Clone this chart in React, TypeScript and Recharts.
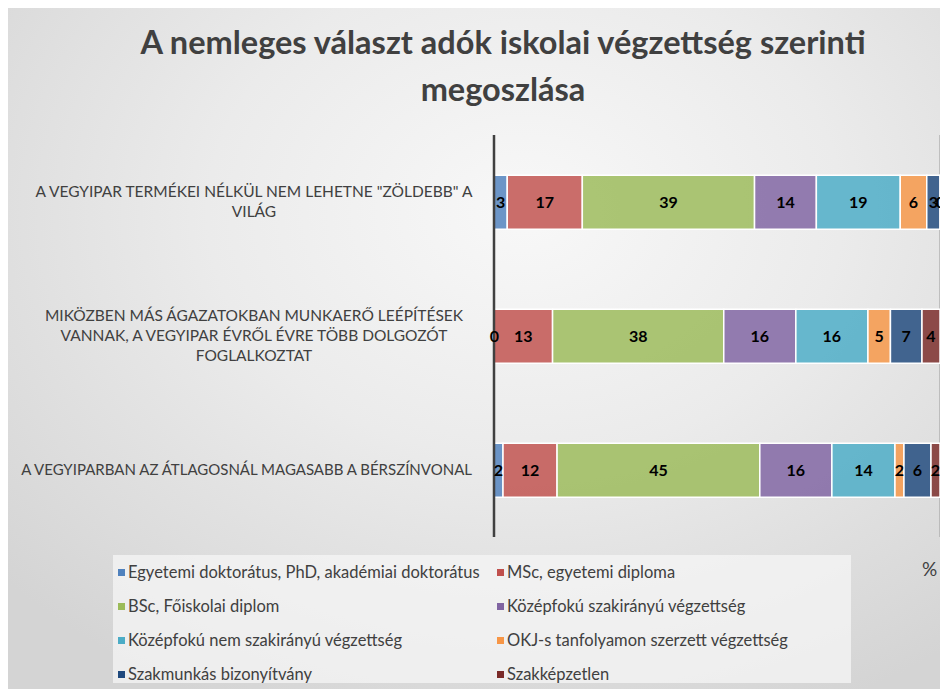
import React from 'react';
import { BarChart, Bar, XAxis, YAxis, CartesianGrid, Legend, LabelList } from 'recharts';

const categories = [
  'A VEGYIPAR TERMÉKEI NÉLKÜL NEM LEHETNE "ZÖLDEBB" A VILÁG',
  'MIKÖZBEN MÁS ÁGAZATOKBAN MUNKAERŐ LEÉPÍTÉSEK VANNAK, A VEGYIPAR ÉVRŐL ÉVRE TÖBB DOLGOZÓT FOGLALKOZTAT',
  'A VEGYIPARBAN AZ ÁTLAGOSNÁL MAGASABB A BÉRSZÍNVONAL',
];
const tickLines = [
  ['A VEGYIPAR TERMÉKEI NÉLKÜL NEM LEHETNE "ZÖLDEBB" A', 'VILÁG'],
  ['MIKÖZBEN MÁS ÁGAZATOKBAN MUNKAERŐ LEÉPÍTÉSEK', 'VANNAK, A VEGYIPAR ÉVRŐL ÉVRE TÖBB DOLGOZÓT', 'FOGLALKOZTAT'],
  ['A VEGYIPARBAN AZ ÁTLAGOSNÁL MAGASABB A BÉRSZÍNVONAL'],
];

const seriesNames = [
  'Egyetemi doktorátus, PhD, akadémiai doktorátus',
  'MSc, egyetemi diploma',
  'BSc, Főiskolai diplom',
  'Középfokú szakirányú végzettség',
  'Középfokú nem szakirányú végzettség',
  'OKJ-s tanfolyamon szerzett végzettség',
  'Szakmunkás bizonyítvány',
  'Szakképzetlen',
];
const seriesColors = ['#4F81BD', '#C0504D', '#9BBB59', '#8064A2', '#4BACC6', '#F79646', '#1F497D', '#7A2A28'];

const doktor = [3, 0, 2];
const msc = [17, 13, 12];
const bsc = [39, 38, 45];
const kozepSzak = [14, 16, 16];
const kozepNem = [19, 16, 14];
const okj = [6, 5, 2];
const szakmunkas = [3, 7, 6];
const szakkepzetlen = [0, 4, 2];
const seriesValues = [doktor, msc, bsc, kozepSzak, kozepNem, okj, szakmunkas, szakkepzetlen];

const xTicks = [0, 0.2, 0.4, 0.6, 0.8, 1];

const data = categories.map((c, i) => {
  const row: any = { name: c, idx: i };
  seriesNames.forEach((s, k) => {
    row['s' + k] = seriesValues[k][i];
  });
  return row;
});

const FONT = 'Lato, "Open Sans", sans-serif';

const YTick = (props: any) => {
  const { x, y, payload } = props;
  const i = categories.indexOf(payload.value);
  const lines = tickLines[i] || [payload.value];
  const lh = 20;
  const startY = y - ((lines.length - 1) * lh) / 2;
  const single = lines.length === 1;
  return (
    <g>
      {lines.map((l, k) => (
        <text
          key={k}
          x={single ? x - 14 : x - 232}
          y={startY + k * lh}
          dy="0.35em"
          textAnchor={single ? 'end' : 'middle'}
          fontFamily={FONT}
          fontSize={single ? 15 : 15.5}
          fill="#404040"
        >
          {l}
        </text>
      ))}
    </g>
  );
};

const BarLabel = (props: any) => {
  const { x, y, width, height, value } = props;
  return (
    <text
      x={x + width / 2}
      y={y + height / 2}
      dy="0.35em"
      textAnchor="middle"
      fill="#000000"
      fontFamily={FONT}
      fontWeight={700}
      fontSize={16}
    >
      {value}
    </text>
  );
};

const LegendContent = () => {
  return (
    <div
      style={{
        background: 'rgba(245,245,245,0.75)',
        width: 738,
        height: 128,
        boxSizing: 'border-box',
        padding: '0 0 0 5px',
        display: 'grid',
        gridTemplateColumns: '379px 354px',
        gridAutoRows: '34px',
        alignContent: 'start',
        alignItems: 'center',
        fontFamily: FONT,
        fontSize: 16.5,
        color: '#404040',
      }}
    >
      {seriesNames.map((name, k) => (
        <div key={k} style={{ display: 'flex', alignItems: 'center', whiteSpace: 'nowrap' }}>
          <span style={{ display: 'inline-block', width: 7, height: 7, background: seriesColors[k], marginRight: 3 }} />
          <span>{name}</span>
        </div>
      ))}
    </div>
  );
};

export default function App() {
  return (
    <div
      style={{
        position: 'relative',
        width: 940,
        height: 681,
        overflow: 'hidden',
        background: 'radial-gradient(ellipse 75% 80% at 55% 30%, #f8f8f8 0%, #ebebeb 45%, #d4d4d4 100%)',
      }}
    >
      <div
        style={{
          position: 'absolute',
          left: 0,
          top: 10,
          width: 990,
          textAlign: 'center',
          fontFamily: FONT,
          fontWeight: 700,
          fontSize: 32.5,
          lineHeight: '47px',
          color: '#404040',
        }}
      >
        A nemleges választ adók iskolai végzettség szerinti
        <br />
        megoszlása
      </div>
      <BarChart
        width={940}
        height={681}
        data={data}
        layout="vertical"
        stackOffset="expand"
        barCategoryGap="30%"
        margin={{ top: 127, right: 8, bottom: 24, left: 0 }}
        style={{ position: 'absolute', left: 0, top: 0 }}
      >
        <CartesianGrid horizontal={false} vertical={true} stroke="#a6a6a6" strokeWidth={1.2} />
        <XAxis
          type="number"
          domain={[0, 1]}
          ticks={xTicks}
          tick={false}
          tickLine={false}
          axisLine={false}
          height={0}
        />
        <YAxis
          type="category"
          dataKey="name"
          width={486}
          tick={<YTick />}
          tickLine={false}
          axisLine={{ stroke: '#404040', strokeWidth: 2.5 }}
          interval={0}
        />
        <Legend
          content={<LegendContent />}
          wrapperStyle={{ position: 'absolute', left: 105, top: 547, width: 738, height: 128 }}
        />
        {seriesNames.map((s, k) => (
          <Bar
            key={s}
            dataKey={'s' + k}
            name={s}
            stackId="a"
            fill={seriesColors[k]}
            fillOpacity={0.83}
            stroke="#ffffff"
            strokeWidth={1.5}
            minPointSize={1}
            isAnimationActive={false}
          >
            <LabelList dataKey={'s' + k} content={<BarLabel />} />
          </Bar>
        ))}
      </BarChart>
      <div
        style={{
          position: 'absolute',
          left: 914,
          top: 549,
          fontFamily: FONT,
          fontSize: 19,
          lineHeight: '24px',
          color: '#404040',
        }}
      >
        %
      </div>
    </div>
  );
}
